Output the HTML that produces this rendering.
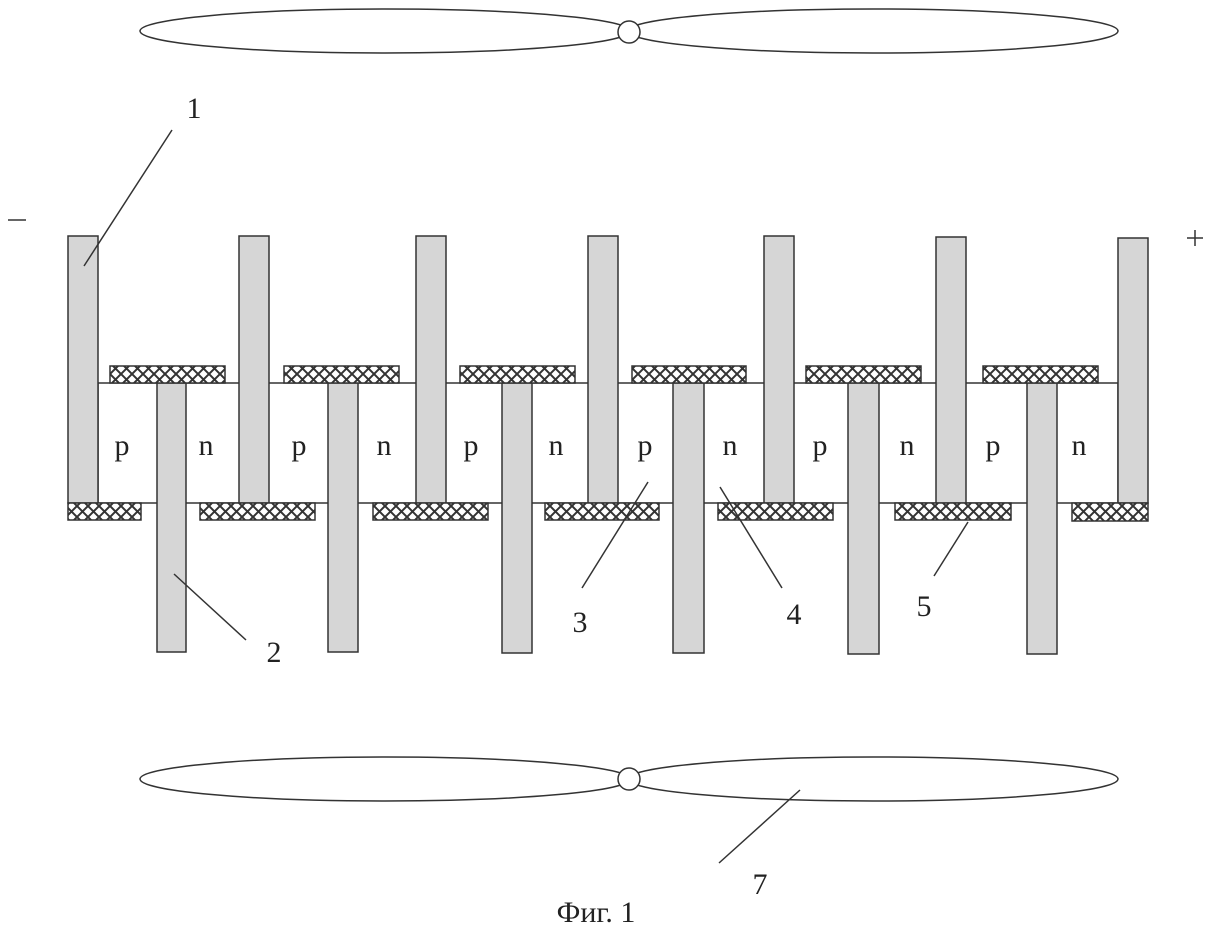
<!DOCTYPE html>
<html><head><meta charset="utf-8"><style>html,body{margin:0;padding:0;background:#fff}svg{display:block}</style></head><body>
<svg width="1214" height="928" viewBox="0 0 1214 928" xmlns="http://www.w3.org/2000/svg" font-family="Liberation Serif, serif">
<defs>
<pattern id="h" width="11" height="11" patternUnits="userSpaceOnUse">
<rect width="11" height="11" fill="#fff"/>
<path d="M0,0L11,11M11,0L0,11" stroke="#333" stroke-width="2"/>
</pattern>
</defs>
<g stroke="#333" stroke-width="1.5" fill="none">
<ellipse cx="385" cy="31" rx="245" ry="22"/>
<ellipse cx="873" cy="31" rx="245" ry="22"/>
<ellipse cx="385" cy="779" rx="245" ry="22"/>
<ellipse cx="873" cy="779" rx="245" ry="22"/>
</g>
<circle cx="629" cy="32" r="11" fill="#fff" stroke="#333" stroke-width="1.5"/>
<circle cx="629" cy="779" r="11" fill="#fff" stroke="#333" stroke-width="1.5"/>
<rect x="98" y="383" width="1020" height="120" fill="#fff" stroke="#333" stroke-width="1.5"/>
<g fill="#d6d6d6" stroke="#333" stroke-width="1.5">
<rect x="68" y="236" width="30" height="267"/>
<rect x="239" y="236" width="30" height="267"/>
<rect x="416" y="236" width="30" height="267"/>
<rect x="588" y="236" width="30" height="267"/>
<rect x="764" y="236" width="30" height="267"/>
<rect x="936" y="237" width="30" height="266"/>
<rect x="1118" y="238" width="30" height="265"/>
<rect x="157" y="383" width="29" height="269"/>
<rect x="328" y="383" width="30" height="269"/>
<rect x="502" y="383" width="30" height="270"/>
<rect x="673" y="383" width="31" height="270"/>
<rect x="848" y="383" width="31" height="271"/>
<rect x="1027" y="383" width="30" height="271"/>
</g>
<g fill="url(#h)" stroke="#333" stroke-width="1.5">
<rect x="110" y="366" width="115" height="17"/>
<rect x="284" y="366" width="115" height="17"/>
<rect x="460" y="366" width="115" height="17"/>
<rect x="632" y="366" width="114" height="17"/>
<rect x="806" y="366" width="115" height="17"/>
<rect x="983" y="366" width="115" height="17"/>
<rect x="68" y="503" width="73" height="17"/>
<rect x="200" y="503" width="115" height="17"/>
<rect x="373" y="503" width="115" height="17"/>
<rect x="545" y="503" width="114" height="17"/>
<rect x="718" y="503" width="115" height="17"/>
<rect x="895" y="503" width="116" height="17"/>
<rect x="1072" y="503" width="76" height="18"/>
</g>
<g font-size="30" fill="#222" text-anchor="middle">
<text x="122" y="455">p</text><text x="206" y="455">n</text>
<text x="299" y="455">p</text><text x="384" y="455">n</text>
<text x="471" y="455">p</text><text x="556" y="455">n</text>
<text x="645" y="455">p</text><text x="730" y="455">n</text>
<text x="820" y="455">p</text><text x="907" y="455">n</text>
<text x="993" y="455">p</text><text x="1079" y="455">n</text>
</g>
<g stroke="#333" stroke-width="1.5">
<line x1="84" y1="266" x2="172" y2="130"/>
<line x1="174" y1="574" x2="246" y2="640"/>
<line x1="648" y1="482" x2="582" y2="588"/>
<line x1="720" y1="487" x2="782" y2="588"/>
<line x1="968" y1="522" x2="934" y2="576"/>
<line x1="800" y1="790" x2="719" y2="863"/>
<line x1="8" y1="220" x2="26" y2="220"/>
<line x1="1187" y1="238" x2="1203" y2="238"/><line x1="1195" y1="230" x2="1195" y2="246"/>
</g>
<g font-size="30" fill="#222" text-anchor="middle">
<text x="194" y="118">1</text>
<text x="274" y="662">2</text>
<text x="580" y="632">3</text>
<text x="794" y="624">4</text>
<text x="924" y="616">5</text>
<text x="760" y="894">7</text>
<text x="596" y="922" font-size="30">Фиг. 1</text>
</g>
</svg>
</body></html>
